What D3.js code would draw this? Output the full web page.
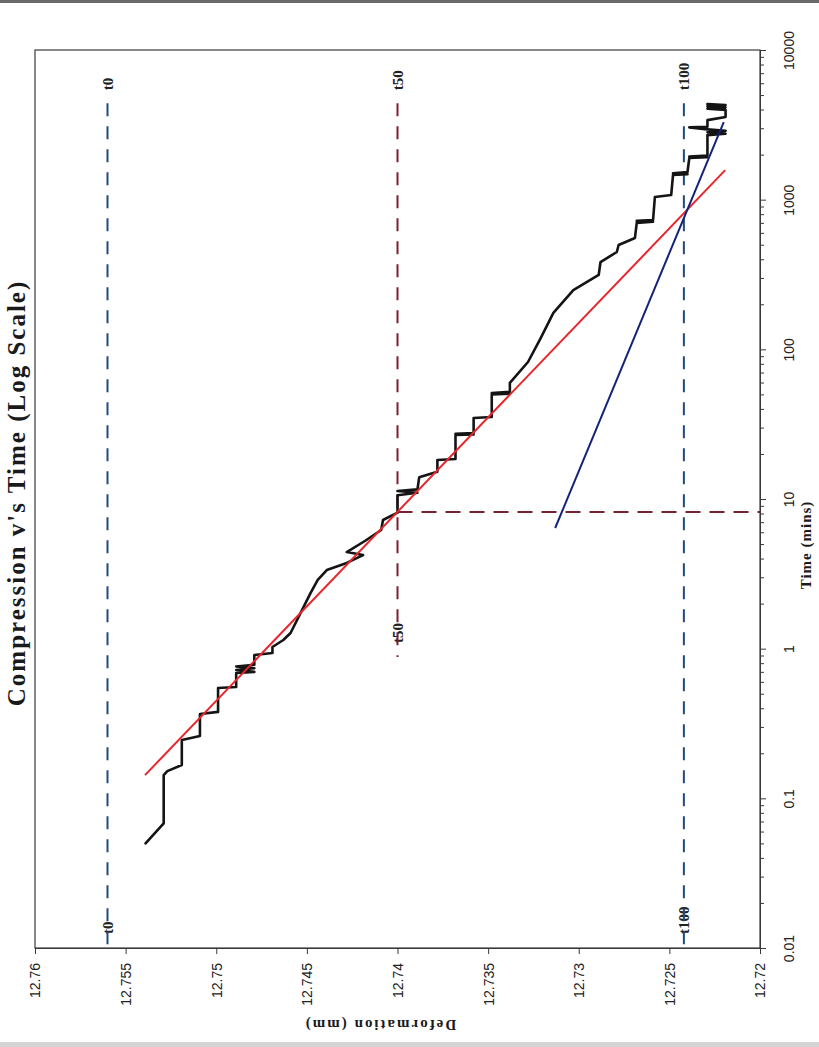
<!DOCTYPE html>
<html>
<head>
<meta charset="utf-8">
<script src="https://cdn.jsdelivr.net/npm/d3@7"></script>
<style>
  body { margin: 0; background: #fff; }
  svg { display: block; }
</style>
</head>
<body>
<svg id="chart" width="819" height="1047"></svg>
<script>
// Measured compression curve (time in mins, deformation in mm)
const curveTime = [
  0.050, 0.068, 0.143, 0.152, 0.167, 0.245, 0.261, 0.366, 0.378, 0.546,
  0.555, 0.688, 0.70, 0.72, 0.74, 0.76, 0.78, 0.907, 0.935, 1.026,
  1.143, 1.273, 1.68, 2.35, 2.88, 3.35, 3.74, 4.22, 4.42, 5.24,
  6.21, 7.24, 8.10, 10.6, 11.0, 11.3, 11.6, 14.0, 15.2, 18.2,
  18.5, 26.8, 27.0, 27.3, 27.6, 34.8, 35.3, 50.0, 50.5, 51.0,
  52.0, 59.6, 82.3, 119, 175, 249, 314, 383, 447, 498,
  555, 700, 712, 722, 732, 1042, 1074, 1461, 1480, 1500,
  1530, 1898, 1920, 1945, 1970, 2700, 2760, 2820, 2880, 2950,
  3040, 3070, 3400, 3570, 3970, 4050, 4130, 4210, 4290, 4350
];
const curveDeform = [
  12.7539, 12.7529, 12.7529, 12.7527, 12.7519, 12.7519, 12.7509, 12.7509, 12.7499, 12.7499,
  12.7489, 12.7489, 12.7479, 12.7489, 12.7479, 12.7489, 12.7479, 12.7479, 12.7469, 12.7469,
  12.7463, 12.7459, 12.7454, 12.7448, 12.7444, 12.7439, 12.7428, 12.7419, 12.7428, 12.7418,
  12.7409, 12.7408, 12.7400, 12.7400, 12.7389, 12.7400, 12.7389, 12.7388, 12.7378, 12.7378,
  12.7368, 12.7368, 12.7358, 12.7368, 12.7358, 12.7358, 12.7348, 12.7348, 12.7338, 12.7348,
  12.7338, 12.7338, 12.7328, 12.7321, 12.7314, 12.7303, 12.7289, 12.7288, 12.7279, 12.7278,
  12.7269, 12.7268, 12.7259, 12.7268, 12.7259, 12.7258, 12.7249, 12.7248, 12.7240, 12.7248,
  12.7240, 12.7239, 12.7229, 12.7239, 12.7229, 12.7229, 12.7219, 12.7229, 12.7219, 12.7229,
  12.7239, 12.7229, 12.7229, 12.7219, 12.7219, 12.7229, 12.7219, 12.7229, 12.7219, 12.7229
];

// fitted lines
const redTime = [0.143, 1574];
const redDeform = [12.75393, 12.72192];
const blueTime = [6.4, 3300];
const blueDeform = [12.7313, 12.7220];

// t0 / t50 / t100 markers
const markerNames = ['t0', 't50', 't100'];
const markerDeform = [12.756, 12.740, 12.7242];
const markerTimeLow = [0.01, 0.88, 0.01];
const markerTimeHigh = [4400, 4400, 4400];
const t50Time = 8.2;

// axis ticks
const deformTicks = [12.76, 12.755, 12.75, 12.745, 12.74, 12.735, 12.73, 12.725, 12.72];
const timeTicks = [0.01, 0.1, 1, 10, 100, 1000, 10000];

const svg = d3.select('#chart');
const plotLeft = 35, plotRight = 760, plotTop = 50, plotBottom = 948;

const x = d3.scaleLinear().domain([12.76, 12.72]).range([plotLeft, plotRight]);
const y = d3.scaleLog().domain([0.01, 10000]).range([plotBottom, plotTop]);

// scanned page edges
svg.append('rect').attr('x', 0).attr('y', 0).attr('width', 819).attr('height', 3).attr('fill', '#6a6a6a');
svg.append('rect').attr('x', 0).attr('y', 1042).attr('width', 819).attr('height', 5).attr('fill', '#d4d4d4');

// plot frame
svg.append('rect')
  .attr('x', plotLeft).attr('y', plotTop)
  .attr('width', plotRight - plotLeft).attr('height', plotBottom - plotTop)
  .attr('fill', 'none').attr('stroke', '#3a3a3a').attr('stroke-width', 1.2);

// title
svg.append('text')
  .attr('transform', `translate(25,${(plotTop + plotBottom) / 2 - 6}) rotate(-90)`)
  .attr('text-anchor', 'middle')
  .style('font-family', '"Liberation Serif", "Times New Roman", serif')
  .style('font-weight', 'bold')
  .style('font-size', '25px')
  .style('letter-spacing', '2px')
  .attr('fill', '#1a1a1a')
  .text("Compression v's Time (Log Scale)");

// bottom axis (deformation)
const xAxis = svg.append('g')
  .attr('transform', `translate(0,${plotBottom})`)
  .call(d3.axisBottom(x).tickValues(deformTicks).tickSize(6).tickSizeOuter(0)
    .tickFormat(d => String(+d.toFixed(3))));
xAxis.select('.domain').attr('stroke', '#3a3a3a');
xAxis.selectAll('line').attr('stroke', '#3a3a3a');
xAxis.selectAll('text')
  .attr('transform', 'rotate(-90)')
  .attr('x', -15).attr('y', 0).attr('dy', '0.35em')
  .attr('text-anchor', 'end')
  .style('font-family', '"Liberation Sans", Arial, sans-serif')
  .style('font-size', '14px')
  .attr('fill', '#222');

// right axis (time, log)
const minorTicks = [];
for (let p = -2; p < 4; p++) {
  for (let k = 2; k <= 9; k++) minorTicks.push(k * Math.pow(10, p));
}
const yMinor = svg.append('g')
  .attr('transform', `translate(${plotRight},0)`)
  .call(d3.axisRight(y).tickValues(minorTicks).tickSize(4).tickSizeOuter(0).tickFormat(''));
yMinor.select('.domain').attr('stroke', '#3a3a3a');
yMinor.selectAll('line').attr('stroke', '#3a3a3a');

const yAxis = svg.append('g')
  .attr('transform', `translate(${plotRight},0)`)
  .call(d3.axisRight(y).tickValues(timeTicks).tickSize(6).tickSizeOuter(0)
    .tickFormat(d => d3.format('~g')(d)));
yAxis.select('.domain').remove();
yAxis.selectAll('line').attr('stroke', '#3a3a3a');
yAxis.selectAll('text')
  .attr('transform', 'translate(34,0) rotate(-90)')
  .attr('x', 0).attr('y', 0).attr('dy', 0)
  .attr('text-anchor', 'middle')
  .style('font-family', '"Liberation Sans", Arial, sans-serif')
  .style('font-size', '14px')
  .attr('fill', '#222');

// axis titles
svg.append('text')
  .attr('transform', `translate(380,1020) rotate(180)`)
  .attr('text-anchor', 'middle')
  .style('font-family', '"Liberation Serif", "Times New Roman", serif')
  .style('font-weight', 'bold')
  .style('font-size', '15px')
  .style('letter-spacing', '2px')
  .attr('fill', '#1a1a1a')
  .text('Deformation (mm)');

svg.append('text')
  .attr('transform', `translate(811,545) rotate(-90)`)
  .attr('text-anchor', 'middle')
  .style('font-family', '"Liberation Serif", "Times New Roman", serif')
  .style('font-weight', 'bold')
  .style('font-size', '15px')
  .style('letter-spacing', '1px')
  .attr('fill', '#1a1a1a')
  .text('Time (mins)');

// marker labels (drawn first so the dashed lines cross the lower ones)
const markers = markerNames.map((name, i) => ({
  name, d: markerDeform[i], lo: markerTimeLow[i], hi: markerTimeHigh[i]
}));
const markerColor = { t0: '#234a7c', t50: '#7a2030', t100: '#234a7c' };

const labelStyle = sel => sel
  .attr('dy', '0.35em')
  .attr('text-anchor', 'start')
  .style('font-family', '"Liberation Serif", "Times New Roman", serif')
  .style('font-weight', 'bold')
  .style('font-size', '15px')
  .attr('fill', '#222');

svg.selectAll('.lab-top').data(markers).enter().append('text')
  .attr('class', 'lab-top')
  .attr('transform', d => `translate(${x(d.d)},${y(d.hi) - 13}) rotate(-90)`)
  .call(labelStyle)
  .text(d => d.name);

svg.selectAll('.lab-bot').data(markers).enter().append('text')
  .attr('class', 'lab-bot')
  .attr('transform', d => `translate(${x(d.d)},${y(d.lo) - 14}) rotate(-90)`)
  .call(labelStyle)
  .text(d => d.name);

const line = d3.line().x(d => x(d.d)).y(d => y(d.t));

// vertical dashed marker lines (top to bottom so dashes start at the top)
svg.selectAll('.marker').data(markers).enter().append('path')
  .attr('class', 'marker')
  .attr('d', d => line([{ t: d.hi, d: d.d }, { t: d.lo, d: d.d }]))
  .attr('fill', 'none')
  .attr('stroke', d => markerColor[d.name])
  .attr('stroke-width', 2)
  .attr('stroke-dasharray', '13,10');

// horizontal t50 line
svg.append('path')
  .attr('d', line([{ t: t50Time, d: markerDeform[1] }, { t: t50Time, d: 12.72 }]))
  .attr('fill', 'none')
  .attr('stroke', '#7a2030')
  .attr('stroke-width', 2)
  .attr('stroke-dasharray', '15,9');

// compression curve
const curve = curveTime.map((t, i) => ({ t, d: curveDeform[i] }));
svg.append('path')
  .attr('d', line(curve))
  .attr('fill', 'none')
  .attr('stroke', '#141414')
  .attr('stroke-width', 2.6)
  .attr('stroke-linejoin', 'round')
  .attr('stroke-linecap', 'round');

// fitted straight lines
svg.append('path')
  .attr('d', line(redTime.map((t, i) => ({ t, d: redDeform[i] }))))
  .attr('stroke', '#e8262b')
  .attr('stroke-width', 2);

svg.append('path')
  .attr('d', line(blueTime.map((t, i) => ({ t, d: blueDeform[i] }))))
  .attr('stroke', '#14237a')
  .attr('stroke-width', 2);
</script>
</body>
</html>
